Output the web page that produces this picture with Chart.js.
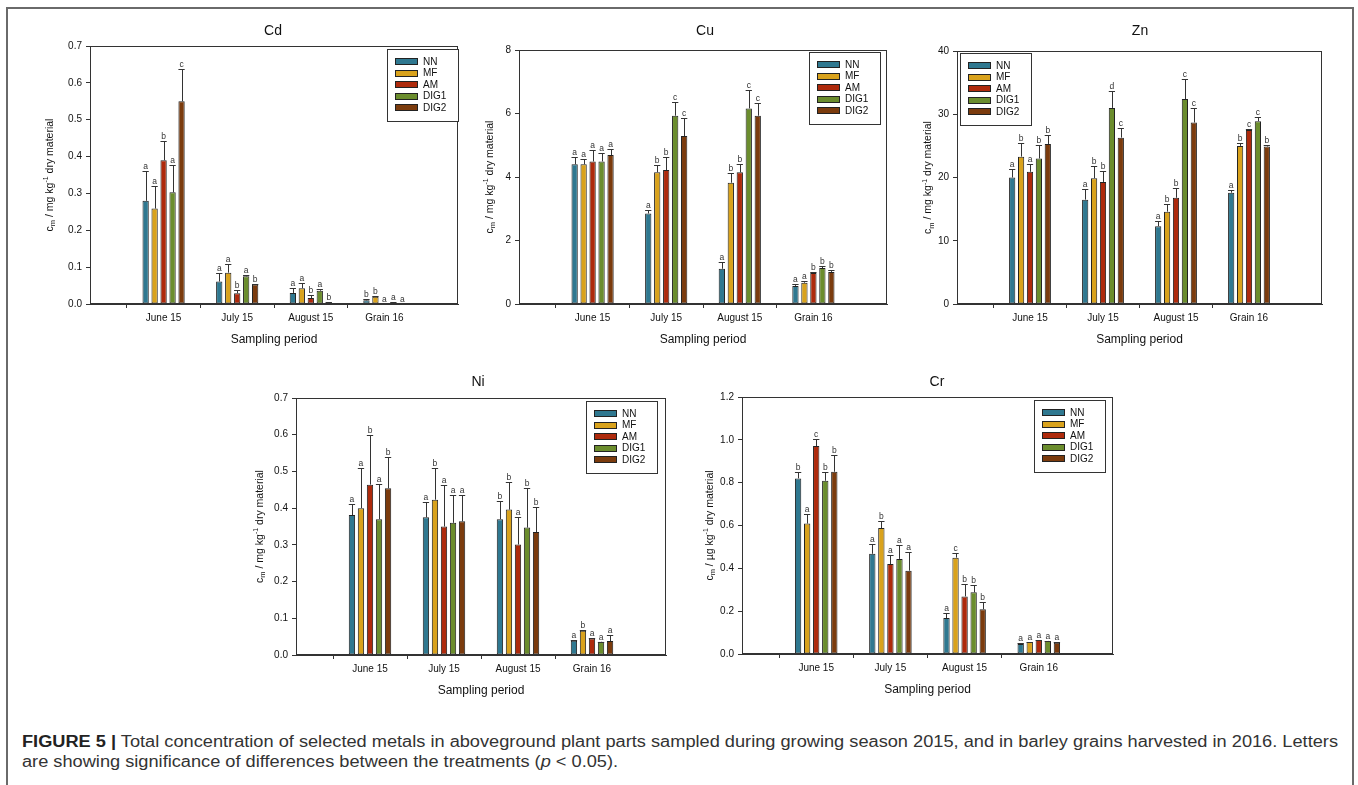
<!DOCTYPE html>
<html>
<head>
<meta charset="utf-8">
<script src="https://cdn.jsdelivr.net/npm/chart.js@4.4.0/dist/chart.umd.min.js"></script>
<style>
  body { margin: 0; background: #fff; width: 1358px; height: 785px; overflow: hidden; position: relative;
         font-family: 'Liberation Sans', Arial, sans-serif; }
  #frame { position: absolute; left: 6px; top: 7px; width: 1344px; height: 820px; border: 2px solid #6a6a6a; }
  canvas.panel { position: absolute; }
  .cap { position: absolute; left: 22px; font-size: 16px; line-height: 16px; color: #333; white-space: nowrap; transform-origin: 0 0; }
  .cap b { color: #222; }
</style>
</head>
<body>
<div id="frame"></div>
<canvas id="cdChart" class="panel"></canvas>
<canvas id="cuChart" class="panel"></canvas>
<canvas id="znChart" class="panel"></canvas>
<canvas id="niChart" class="panel"></canvas>
<canvas id="crChart" class="panel"></canvas>
<div class="cap" id="cap1" style="top:734px"><b>FIGURE 5 |</b> Total concentration of selected metals in aboveground plant parts sampled during growing season 2015, and in barley grains harvested in 2016. Letters</div>
<div class="cap" id="cap2" style="top:754px">are showing significance of differences between the treatments (<i>p</i> &lt; 0.05).</div>

<script>
// sampling periods and treatments
const periods = ['June 15', 'July 15', 'August 15', 'Grain 16'];
const treatments = ['NN', 'MF', 'AM', 'DIG1', 'DIG2'];

// values per treatment (NN, MF, AM, DIG1, DIG2), one number per period
const cdMean = [
  [0.280, 0.061, 0.030, 0.010],
  [0.259, 0.085, 0.043, 0.020],
  [0.390, 0.029, 0.016, 0.001],
  [0.303, 0.075, 0.036, 0.004],
  [0.550, 0.053, 0.005, 0.001]
];
const cdErr = [
  [0.080, 0.023, 0.014, 0.004],
  [0.060, 0.024, 0.014, 0.001],
  [0.053, 0.009, 0.008, 0.000],
  [0.073, 0.005, 0.004, 0.001],
  [0.087, 0.002, 0.001, 0.000]
];
const cdLetters = [
  ['a', 'a', 'a', 'b'],
  ['a', 'a', 'a', 'b'],
  ['b', 'b', 'b', 'a'],
  ['a', 'a', 'a', 'a'],
  ['c', 'b', 'b', 'a']
];

const cuMean = [
  [4.40, 2.85, 1.11, 0.57],
  [4.40, 4.15, 3.82, 0.67],
  [4.49, 4.22, 4.15, 0.98],
  [4.49, 5.93, 6.16, 1.13],
  [4.69, 5.29, 5.93, 1.01]
];
const cuErr = [
  [0.22, 0.12, 0.20, 0.05],
  [0.18, 0.24, 0.32, 0.06],
  [0.37, 0.42, 0.26, 0.03],
  [0.26, 0.43, 0.58, 0.08],
  [0.19, 0.56, 0.41, 0.05]
];
const cuLetters = [
  ['a', 'a', 'a', 'a'],
  ['a', 'b', 'b', 'a'],
  ['a', 'b', 'b', 'b'],
  ['a', 'c', 'c', 'b'],
  ['a', 'c', 'c', 'b']
];

const znMean = [
  [20.0, 16.5, 12.3, 17.6],
  [23.3, 19.9, 14.6, 25.0],
  [20.9, 19.3, 16.8, 27.5],
  [23.0, 31.0, 32.4, 28.9],
  [25.3, 26.3, 28.7, 24.9]
];
const znErr = [
  [1.3, 1.7, 0.8, 0.5],
  [2.1, 1.9, 1.2, 0.5],
  [1.3, 1.8, 1.6, 0.1],
  [2.1, 2.6, 3.1, 0.7],
  [1.4, 1.6, 2.3, 0.3]
];
const znLetters = [
  ['a', 'a', 'a', 'a'],
  ['b', 'b', 'b', 'b'],
  ['a', 'b', 'b', 'c'],
  ['b', 'd', 'c', 'c'],
  ['b', 'c', 'c', 'b']
];

const niMean = [
  [0.381, 0.375, 0.370, 0.039],
  [0.400, 0.423, 0.396, 0.066],
  [0.464, 0.350, 0.301, 0.045],
  [0.370, 0.360, 0.347, 0.036],
  [0.454, 0.364, 0.335, 0.038]
];
const niErr = [
  [0.031, 0.041, 0.049, 0.001],
  [0.109, 0.087, 0.074, 0.001],
  [0.134, 0.113, 0.074, 0.001],
  [0.095, 0.075, 0.109, 0.000],
  [0.085, 0.073, 0.067, 0.016]
];
const niLetters = [
  ['a', 'a', 'b', 'a'],
  ['a', 'b', 'b', 'b'],
  ['b', 'a', 'a', 'a'],
  ['a', 'a', 'b', 'a'],
  ['b', 'a', 'b', 'a']
];

const crMean = [
  [0.820, 0.468, 0.168, 0.047],
  [0.609, 0.588, 0.450, 0.056],
  [0.971, 0.420, 0.269, 0.065],
  [0.809, 0.444, 0.288, 0.061],
  [0.851, 0.389, 0.209, 0.053]
];
const crErr = [
  [0.031, 0.046, 0.022, 0.003],
  [0.043, 0.033, 0.020, 0.001],
  [0.031, 0.042, 0.056, 0.002],
  [0.041, 0.063, 0.033, 0.001],
  [0.078, 0.086, 0.034, 0.001]
];
const crLetters = [
  ['b', 'a', 'a', 'a'],
  ['a', 'b', 'c', 'a'],
  ['c', 'a', 'b', 'a'],
  ['b', 'a', 'b', 'a'],
  ['b', 'a', 'b', 'a']
];

const barColors = ['#2f7890', '#d9a21c', '#ae2a0c', '#6b8d2d', '#7b3b0d'];
const FONT = "'Liberation Sans', Arial, sans-serif";

Chart.defaults.font.family = FONT;

// draws "c_m / mg kg^-1 dry material" rotated, with sub/superscript
function drawYTitle(ctx, cx, cy, unit) {
  const segs = [
    { t: 'c', s: 10.5, dy: 0 },
    { t: 'm', s: 7.5, dy: 2.5 },
    { t: ' / ' + unit + ' kg', s: 10.5, dy: 0 },
    { t: '-1', s: 7, dy: -4.5 },
    { t: ' dry material', s: 10.5, dy: 0 }
  ];
  ctx.save();
  ctx.translate(cx, cy);
  ctx.rotate(-Math.PI / 2);
  let total = 0;
  segs.forEach(function (g) {
    ctx.font = g.s + 'px ' + FONT;
    g.w = ctx.measureText(g.t).width;
    total += g.w;
  });
  let x = -total / 2;
  ctx.textBaseline = 'alphabetic';
  ctx.textAlign = 'left';
  ctx.fillStyle = '#111';
  segs.forEach(function (g) {
    ctx.font = g.s + 'px ' + FONT;
    ctx.fillText(g.t, x, 3.5 + g.dy);
    x += g.w;
  });
  ctx.restore();
}

function makePanel(p) {
  const cv = document.getElementById(p.id);
  const left = p.x0 - 90, top = p.y0 - 46;
  const W = p.x1 - p.x0 + 102, H = p.y1 - p.y0 + 96;
  cv.width = W; cv.height = H;
  cv.style.left = left + 'px'; cv.style.top = top + 'px';
  cv.style.width = W + 'px'; cv.style.height = H + 'px';

  const datasets = treatments.map(function (t, i) {
    return {
      label: t,
      data: [null].concat(p.means[i], [null]),
      errs: [null].concat(p.errs[i], [null]),
      marks: [null].concat(p.letters[i], [null]),
      backgroundColor: barColors[i],
      borderColor: '#222',
      borderWidth: 1,
      borderSkipped: false,
      barPercentage: 0.7,
      categoryPercentage: 0.61
    };
  });

  const deco = {
    id: 'deco',
    afterDraw: function (chart) {
      const ctx = chart.ctx;
      const a = chart.chartArea;
      const ys = chart.scales.y;

      // frame round the plot
      ctx.save();
      ctx.strokeStyle = '#333';
      ctx.lineWidth = 1;
      ctx.strokeRect(Math.round(a.left) + 0.5, Math.round(a.top) + 0.5,
        Math.round(a.right - a.left) - 1, Math.round(a.bottom - a.top) - 1);

      // error bars and letters
      ctx.font = '8.5px ' + FONT;
      ctx.textAlign = 'center';
      ctx.textBaseline = 'alphabetic';
      chart.data.datasets.forEach(function (ds, i) {
        const meta = chart.getDatasetMeta(i);
        meta.data.forEach(function (bar, j) {
          const v = ds.data[j];
          if (v == null) return;
          const yTop = Math.round(ys.getPixelForValue(v + ds.errs[j])) + 0.5;
          const xx = Math.round(bar.x) + 0.5;
          const half = bar.width / 2;
          ctx.strokeStyle = '#333';
          ctx.beginPath();
          ctx.moveTo(xx, bar.y);
          ctx.lineTo(xx, yTop);
          ctx.moveTo(bar.x - half, yTop);
          ctx.lineTo(bar.x + half, yTop);
          ctx.stroke();
          ctx.fillStyle = '#333';
          ctx.fillText(ds.marks[j], bar.x, yTop - 3);
        });
      });

      // legend box
      const lx = p.legendX - left, ly = p.legendY - top;
      ctx.fillStyle = '#fff';
      ctx.fillRect(lx, ly, 71, 72);
      ctx.strokeStyle = '#333';
      ctx.strokeRect(lx + 0.5, ly + 0.5, 71, 72);
      ctx.font = '10px ' + FONT;
      ctx.textAlign = 'left';
      ctx.textBaseline = 'middle';
      chart.data.datasets.forEach(function (ds, i) {
        const cy = ly + 12.5 + i * 11.5;
        ctx.fillStyle = ds.backgroundColor;
        ctx.fillRect(lx + 8, Math.round(cy - 3.5), 23, 7);
        ctx.strokeStyle = '#222';
        ctx.strokeRect(lx + 8.5, Math.round(cy - 3.5) + 0.5, 22, 6);
        ctx.fillStyle = '#111';
        ctx.fillText(ds.label, lx + 36, cy + 0.5);
      });

      // titles
      ctx.fillStyle = '#111';
      ctx.textAlign = 'center';
      ctx.font = '14px ' + FONT;
      ctx.fillText(p.title, p.titleX - left, p.titleY - top);
      ctx.font = '12px ' + FONT;
      ctx.fillText('Sampling period', (a.left + a.right) / 2, a.bottom + 36);
      ctx.restore();

      drawYTitle(ctx, a.left - p.yOff, (a.top + a.bottom) / 2, p.unit);
    }
  };

  return new Chart(cv, {
    type: 'bar',
    data: { labels: [''].concat(periods, ['']), datasets: datasets },
    options: {
      responsive: false,
      animation: false,
      layout: { padding: { left: 0, top: 46, right: 12, bottom: 0 } },
      plugins: { legend: { display: false }, tooltip: { enabled: false } },
      scales: {
        x: {
          offset: false,
          grid: {
            drawOnChartArea: false,
            tickLength: 4,
            color: function (c) { return (c.index === 0 || c.index === 5) ? 'rgba(0,0,0,0)' : '#333'; }
          },
          border: { color: '#333' },
          ticks: { color: '#111', font: { size: 10 }, padding: 4, maxRotation: 0, autoSkip: false },
          afterFit: function (s) { s.height = 50; }
        },
        y: {
          min: 0,
          max: p.max,
          grid: { drawOnChartArea: false, tickLength: 4, color: '#333' },
          border: { color: '#333' },
          ticks: {
            stepSize: p.step,
            color: '#111',
            font: { size: 10 },
            padding: 4,
            callback: function (v) { return Number(v).toFixed(p.dec); }
          },
          afterFit: function (s) { s.width = 90; }
        }
      }
    },
    plugins: [deco]
  });
}

const panels = [
  { id: 'cdChart', title: 'Cd', means: cdMean, errs: cdErr, letters: cdLetters, unit: 'mg',
    max: 0.7, step: 0.1, dec: 1, x0: 90, y0: 46, x1: 458, y1: 304,
    titleX: 273, titleY: 31, legendX: 387, legendY: 49, yOff: 41 },
  { id: 'cuChart', title: 'Cu', means: cuMean, errs: cuErr, letters: cuLetters, unit: 'mg',
    max: 8, step: 2, dec: 0, x0: 519, y0: 50, x1: 887, y1: 304,
    titleX: 705, titleY: 31, legendX: 809, legendY: 52, yOff: 30 },
  { id: 'znChart', title: 'Zn', means: znMean, errs: znErr, letters: znLetters, unit: 'mg',
    max: 40, step: 10, dec: 0, x0: 957, y0: 51, x1: 1322, y1: 304,
    titleX: 1140, titleY: 31, legendX: 960, legendY: 53, yOff: 29.5 },
  { id: 'niChart', title: 'Ni', means: niMean, errs: niErr, letters: niLetters, unit: 'mg',
    max: 0.7, step: 0.1, dec: 1, x0: 296, y0: 398, x1: 666, y1: 655,
    titleX: 478, titleY: 382, legendX: 586, legendY: 401, yOff: 37 },
  { id: 'crChart', title: 'Cr', means: crMean, errs: crErr, letters: crLetters, unit: '\u00b5g',
    max: 1.2, step: 0.2, dec: 1, x0: 742, y0: 397, x1: 1113, y1: 654,
    titleX: 937, titleY: 382, legendX: 1034, legendY: 400, yOff: 33 }
];

panels.forEach(makePanel);

// stretch caption lines to the width of the original line
const cap1 = document.getElementById('cap1');
const cap2 = document.getElementById('cap2');
const k = 1316 / cap1.getBoundingClientRect().width;
cap1.style.transform = 'scaleX(' + k + ')';
cap2.style.transform = 'scaleX(' + k + ')';
</script>
</body>
</html>
